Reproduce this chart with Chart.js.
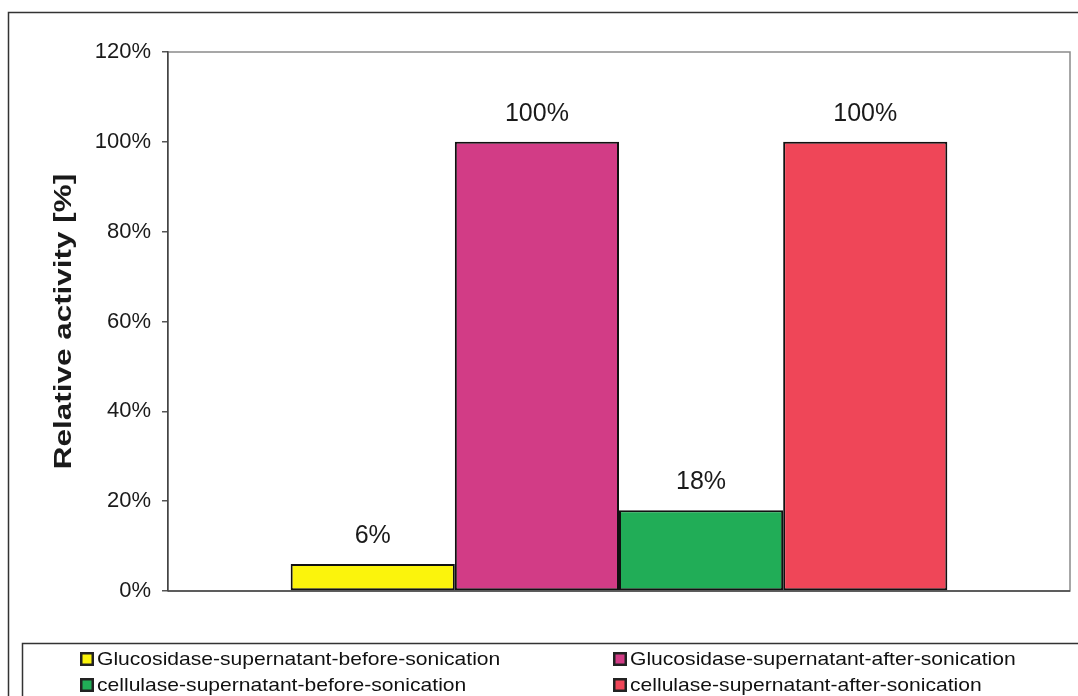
<!DOCTYPE html>
<html>
<head>
<meta charset="utf-8">
<style>
  html, body { margin: 0; padding: 0; background: #fff; }
  #wrap { width: 1078px; height: 696px; position: relative; }
</style>
<script src="https://cdn.jsdelivr.net/npm/chart.js@4/dist/chart.umd.min.js"></script>
</head>
<body>
<div id="wrap"><canvas id="c" width="1078" height="696"></canvas></div>
<script>
// Single group of four bars: relative enzyme activity before / after sonication
const categories = [''];
const seriesLabels = [
  'Glucosidase-supernatant-before-sonication',
  'Glucosidase-supernatant-after-sonication',
  'cellulase-supernatant-before-sonication',
  'cellulase-supernatant-after-sonication'
];
const glucosidaseBefore = [6];
const glucosidaseAfter = [100];
const cellulaseBefore = [18];
const cellulaseAfter = [100];
const yTicks = [0, 20, 40, 60, 80, 100, 120];
const yTitle = 'Relative activity [%]';

const seriesValues = [glucosidaseBefore, glucosidaseAfter, cellulaseBefore, cellulaseAfter];
const seriesColors = ['#fbf40c', '#d23c86', '#21ad57', '#ef4658'];

const FONT = '"Liberation Sans", Arial, sans-serif';

// Outer frame, plot-area frame, y title and the boxed two-column legend
const framePlugin = {
  id: 'frame',
  beforeDraw(chart) {
    const ctx = chart.ctx;
    ctx.save();
    ctx.fillStyle = '#fff';
    ctx.fillRect(0, 0, chart.width, chart.height);
    ctx.strokeStyle = '#333';
    ctx.lineWidth = 1.5;
    ctx.strokeRect(8.5, 12.5, 1200, 800);
    const a = chart.chartArea;
    ctx.strokeStyle = '#8a8a8a';
    ctx.lineWidth = 1.5;
    ctx.strokeRect(a.left, a.top, a.right - a.left, a.bottom - a.top);
    ctx.strokeStyle = '#444';
    ctx.beginPath();
    ctx.moveTo(a.left, a.bottom);
    ctx.lineTo(a.right, a.bottom);
    ctx.stroke();

    // vertical axis title, drawn a little elongated along its baseline
    ctx.translate(64, (a.top + a.bottom) / 2);
    ctx.rotate(-Math.PI / 2);
    ctx.scale(1.31, 1);
    ctx.font = 'bold 24px ' + FONT;
    ctx.fillStyle = '#1a1a1a';
    ctx.textAlign = 'center';
    ctx.textBaseline = 'middle';
    ctx.fillText(yTitle, 0, 0);
    ctx.restore();
  },
  afterDraw(chart) {
    const ctx = chart.ctx;
    ctx.save();
    ctx.strokeStyle = '#333';
    ctx.lineWidth = 1.5;
    ctx.strokeRect(22.5, 643.5, 1200, 200);
    const cols = [80, 613];
    const rows = [659, 685];
    ctx.textBaseline = 'middle';
    ctx.textAlign = 'left';
    chart.data.datasets.forEach((ds, i) => {
      const x = cols[i % 2];
      const y = rows[Math.floor(i / 2)];
      ctx.fillStyle = ds.backgroundColor;
      ctx.fillRect(x, y - 7, 14, 14);
      ctx.strokeStyle = '#222';
      ctx.lineWidth = 2.5;
      ctx.strokeRect(x + 1.25, y - 5.75, 11.5, 11.5);
      ctx.save();
      ctx.translate(x + 17, y + 1);
      ctx.scale(1.11, 1);
      ctx.font = '19px ' + FONT;
      ctx.fillStyle = '#111';
      ctx.fillText(ds.label, 0, 0);
      ctx.restore();
    });
    ctx.restore();
  }
};

// Percentage labels above each bar, taken from the bar's own value
const valueLabels = {
  id: 'valueLabels',
  afterDatasetsDraw(chart) {
    const ctx = chart.ctx;
    ctx.save();
    ctx.font = '25px ' + FONT;
    ctx.fillStyle = '#1a1a1a';
    ctx.textAlign = 'center';
    ctx.textBaseline = 'middle';
    chart.data.datasets.forEach((ds, i) => {
      chart.getDatasetMeta(i).data.forEach((bar, j) => {
        ctx.fillText(ds.data[j] + '%', bar.x, bar.y - 28);
      });
    });
    ctx.restore();
  }
};

new Chart(document.getElementById('c'), {
  type: 'bar',
  data: {
    labels: categories,
    datasets: seriesLabels.map((label, i) => ({
      label,
      data: seriesValues[i],
      backgroundColor: seriesColors[i],
      borderColor: '#111',
      borderWidth: 2,
      borderSkipped: false,
      categoryPercentage: 0.728,
      barPercentage: 1.0
    }))
  },
  options: {
    responsive: false,
    animation: false,
    devicePixelRatio: 1,
    layout: { padding: { left: 0, top: 52, right: 8, bottom: 105 } },
    plugins: {
      legend: { display: false },
      tooltip: { enabled: false }
    },
    scales: {
      x: {
        display: false
      },
      y: {
        min: 0,
        max: 120,
        afterBuildTicks(scale) {
          scale.ticks = yTicks.map(v => ({ value: v }));
        },
        afterFit(scale) { scale.width = 168; },
        ticks: {
          callback: v => v + '%',
          color: '#1a1a1a',
          font: { family: FONT, size: 22 },
          padding: 11
        },
        grid: {
          drawOnChartArea: false,
          drawTicks: true,
          tickLength: 6,
          color: '#555',
          lineWidth: 1.5
        },
        border: { display: true, color: '#444', width: 1.5 }
      }
    }
  },
  plugins: [framePlugin, valueLabels]
});
</script>
</body>
</html>
